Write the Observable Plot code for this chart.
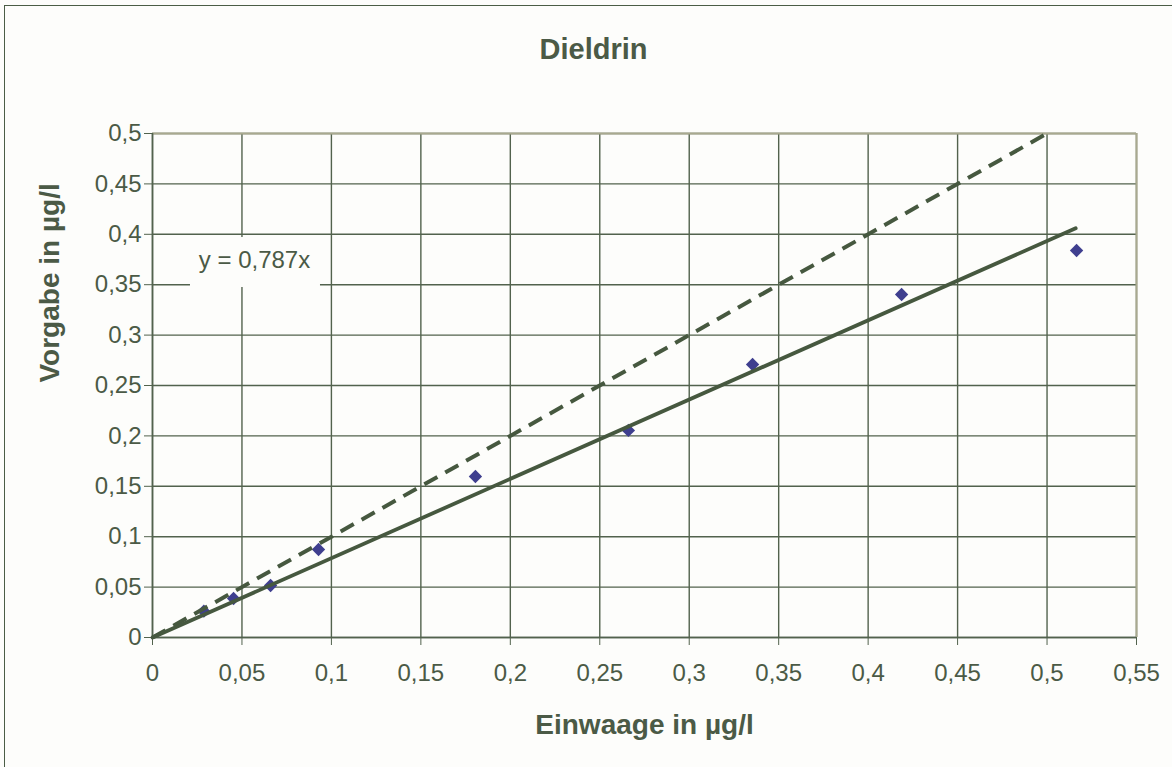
<!DOCTYPE html>
<html><head><meta charset="utf-8">
<script src="https://cdn.jsdelivr.net/npm/d3@7"></script>
<script src="https://cdn.jsdelivr.net/npm/@observablehq/plot@0.6"></script>
<style>
html,body{margin:0;padding:0;background:#fdfdfb;}
#wrap{position:relative;width:1172px;height:767px;overflow:hidden;}
#border{position:absolute;left:4px;top:5px;width:1200px;height:800px;border-left:1.5px solid #4b5d46;border-top:1.5px solid #4b5d46;pointer-events:none;}
</style>
</head><body><div id="wrap"><div id="chart"></div><div id="border"></div></div>
<script>
const titleText = "Dieldrin";
const xLabel = "Einwaage in µg/l";
const yLabel = "Vorgabe in µg/l";
const xTicks = [0, 0.05, 0.1, 0.15, 0.2, 0.25, 0.3, 0.35, 0.4, 0.45, 0.5, 0.55];
const yTicks = [0, 0.05, 0.1, 0.15, 0.2, 0.25, 0.3, 0.35, 0.4, 0.45, 0.5];
const einwaage = [0.0287, 0.0453, 0.066, 0.0928, 0.1805, 0.266, 0.3354, 0.4187, 0.5165];
const vorgabe  = [0.0261, 0.0387, 0.0516, 0.0873, 0.1597, 0.2054, 0.2708, 0.3403, 0.3839];
const idealX = [0, 0.5];
const idealY = [0, 0.5];
const fitX = [0, 0.516];
const fitY = [0, 0.406];
const fitLabel = "y = 0,787x";
const fitLabelX = [0.057];
const fitLabelY = [0.374];

const ink = "#4b5a46";
const gridCol = "#52624d";
const khaki = "#a9a98f";
const fmt = d => String(d).replace(".", ",");
const font = "'Liberation Sans', Arial, sans-serif";

const points = einwaage.map((x, i) => ({x, y: vorgabe[i]}));
const ideal = idealX.map((x, i) => ({x, y: idealY[i]}));
const fit = fitX.map((x, i) => ({x, y: fitY[i]}));
const lab = fitLabelX.map((x, i) => ({x, y: fitLabelY[i], t: fitLabel}));

const chart = Plot.plot({
  width: 1172, height: 767,
  marginLeft: 152, marginRight: 36, marginTop: 133, marginBottom: 130,
  style: {background: "#fdfdfb", color: ink, fontFamily: font, fontSize: "24px"},
  x: {domain: [0, 0.55], inset: 0},
  y: {domain: [0, 0.5], inset: 0},
  marks: [
    Plot.ruleX(xTicks, {stroke: gridCol, strokeWidth: 1.4}),
    Plot.ruleY(yTicks, {stroke: gridCol, strokeWidth: 1.4}),
    Plot.ruleX([0.55], {stroke: khaki, strokeWidth: 2}),
    Plot.ruleY([0.5], {stroke: khaki, strokeWidth: 2}),
    Plot.ruleX([0], {stroke: gridCol, strokeWidth: 1.6}),
    Plot.ruleY([0], {stroke: gridCol, strokeWidth: 1.6}),
    Plot.rect(lab, {x1: "x", x2: "x", y1: "y", y2: "y", fill: "#fdfdfb",
      insetLeft: -64, insetRight: -66, insetTop: -23, insetBottom: -27}),
    Plot.text(lab, {x: "x", y: "y", text: "t", fill: ink, fontSize: 24, fontFamily: font}),
    Plot.axisX({ticks: xTicks, tickFormat: fmt, tickSize: 8, tickPadding: 18, label: null, stroke: gridCol}),
    Plot.axisY({ticks: yTicks, tickFormat: fmt, tickSize: 8, tickPadding: 3, label: null, stroke: gridCol}),
    Plot.dot(points, {x: "x", y: "y", symbol: "diamond2", r: 6, fill: "#3f3f8f", stroke: "none"}),
    Plot.line(ideal, {x: "x", y: "y", stroke: "#46583f", strokeWidth: 4, strokeDasharray: "15,9", strokeLinecap: "butt"}),
    Plot.line(fit, {x: "x", y: "y", stroke: "#46583f", strokeWidth: 3.8}),
    Plot.text([titleText], {frameAnchor: "top", dx: -51, dy: -84, lineAnchor: "middle", fontSize: 29, fontWeight: "bold", fill: ink, fontFamily: font}),
    Plot.text([xLabel], {frameAnchor: "bottom", dy: 88, lineAnchor: "middle", fontSize: 28, fontWeight: "bold", fill: ink, fontFamily: font}),
    Plot.text([yLabel], {frameAnchor: "left", dx: -102, dy: -3, rotate: -90, lineAnchor: "middle", fontSize: 28, fontWeight: "bold", fill: ink, fontFamily: font})
  ]
});
document.getElementById("chart").appendChild(chart);
</script>
</body></html>
